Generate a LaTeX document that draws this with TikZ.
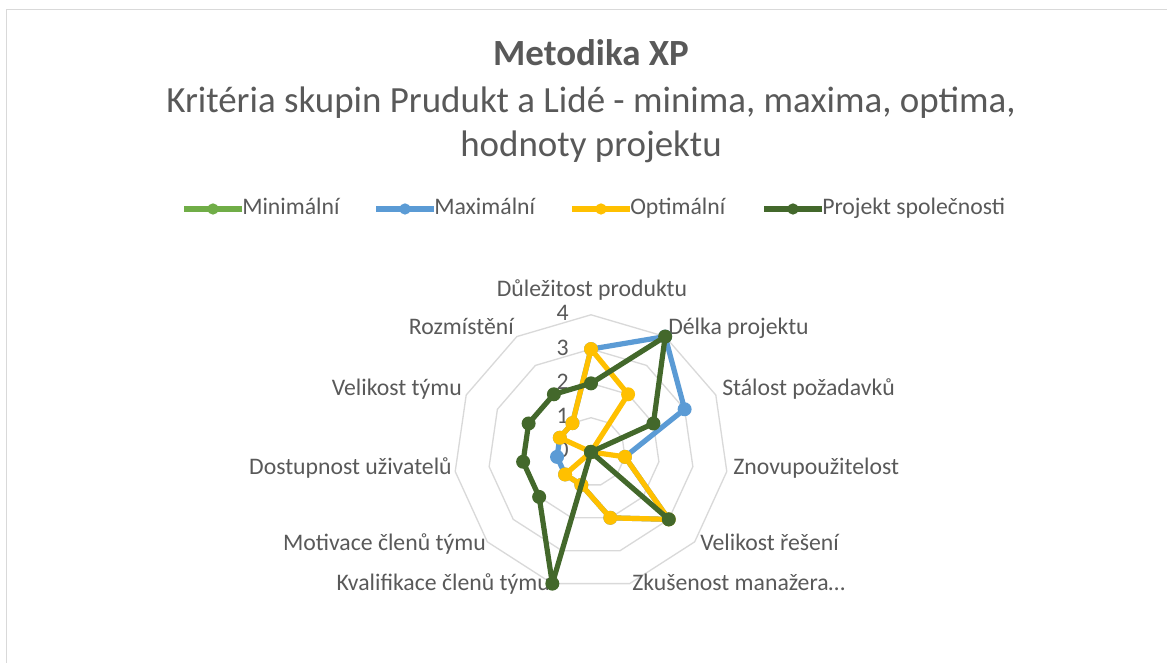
\documentclass[tikz,border=0pt]{standalone}
\usepackage{fontspec}
\setmainfont{Carlito}
\usetikzlibrary{calc}
\definecolor{minc}{HTML}{70AD47}
\definecolor{maxc}{HTML}{5B9BD5}
\definecolor{optc}{HTML}{FFC000}
\definecolor{projc}{HTML}{43682B}
\definecolor{txtc}{HTML}{595959}
\definecolor{gridc}{HTML}{D9D9D9}
\def\ru{34.3}
\tikzset{every node/.style={text=txtc, inner sep=0pt},
  chartfont/.style={font=\fontsize{17.8}{21}\selectfont, text height=12.5pt, text depth=3.5pt},
  titlefont/.style={font=\fontsize{27.7}{33}\selectfont, align=center},
  serie/.style={draw=#1, line width=3.9pt, line join=round},
  dotm/.style={circle, fill=#1, minimum size=10.5pt},
  legdot/.style={circle, fill=#1, minimum size=8.5pt},
  gridline/.style={draw=gridc, line width=1pt}}
% one radar series: name, colour, eleven values
\newcommand{\radar}[3]{%
  \foreach \v [count=\k from 0] in {#3}
    \coordinate (#1-\k) at ($(C)+({90-\k*360/11}:{\v*\ru})$);
  \draw[serie=#2] (#1-0) \foreach \k in {1,...,10}{ -- (#1-\k)} -- cycle;
  \foreach \k in {0,...,10} \node[dotm=#2] at (#1-\k) {};
}
\begin{document}
\begin{tikzpicture}[x=0.75pt, y=0.75pt]
  \useasboundingbox (0,0) rectangle (1167,663);
  \draw[draw=gridc, line width=1.2pt] (6.5,0) |- (1167,653.5);
  \coordinate (C) at (591,211);

  % titles
  \node[titlefont] (title) at (591,610) {\bfseries Metodika XP};
  \node[titlefont] (subtitle) at (591,538)
    {Kritéria skupin Prudukt a Lidé - minima, maxima, optima,\\hodnoty projektu};

  % legend
  \node[chartfont, anchor=west] (lgmin)  at (242,454) {Minimální};
  \node[chartfont, anchor=west] (lgmax)  at (434,454) {Maximální};
  \node[chartfont, anchor=west] (lgopt)  at (630,454) {Optimální};
  \node[chartfont, anchor=west] (lgproj) at (822,454) {Projekt společnosti};
  \draw[serie=minc]  (lgmin.west)  -- ++(-58,0) node[midway, legdot=minc] {};
  \draw[serie=maxc]  (lgmax.west)  -- ++(-58,0) node[midway, legdot=maxc] {};
  \draw[serie=optc]  (lgopt.west)  -- ++(-58,0) node[midway, legdot=optc] {};
  \draw[serie=projc] (lgproj.west) -- ++(-58,0) node[midway, legdot=projc] {};

  % grid
  \foreach \r in {1,...,4}
    \draw[gridline] ($(C)+(90:\r*\ru)$)
      \foreach \k in {1,...,10}{ -- ($(C)+({90-\k*360/11}:\r*\ru)$)} -- cycle;
  \foreach \r in {0,...,4}
    \node[chartfont, anchor=east] (val\r) at ($(C)+(-22,\r*\ru)$) {\r};

  % axis labels
  \node[chartfont]              (ax0)  at (592,372) {Důležitost produktu};
  \node[chartfont, anchor=west] (ax1)  at (668,334) {Délka projektu};
  \node[chartfont, anchor=west] (ax2)  at (722,273) {Stálost požadavků};
  \node[chartfont, anchor=west] (ax3)  at (733,194) {Znovupoužitelost};
  \node[chartfont, anchor=west] (ax4)  at (700,118) {Velikost řešení};
  \node[chartfont, anchor=west] (ax5)  at (632,78)  {Zkušenost manažera…};
  \node[chartfont, anchor=east] (ax6)  at (550,78)  {Kvalifikace členů týmu};
  \node[chartfont, anchor=east] (ax7)  at (486,118) {Motivace členů týmu};
  \node[chartfont, anchor=east] (ax8)  at (452,194) {Dostupnost uživatelů};
  \node[chartfont, anchor=east] (ax9)  at (462,273) {Velikost týmu};
  \node[chartfont, anchor=east] (ax10) at (514,334) {Rozmístění};

  % series
  \radar{min}{minc}{0,0,0,0,0,0,0,0,0,0,0}
  \radar{max}{maxc}{3,4,3,1,3,2,1,1,1,1,1}
  \radar{opt}{optc}{3,2,0,1,3,2,1,1,0,1,1}
  \radar{proj}{projc}{2,4,2,0,3,0,4,2,2,2,2}
\end{tikzpicture}
\end{document}
